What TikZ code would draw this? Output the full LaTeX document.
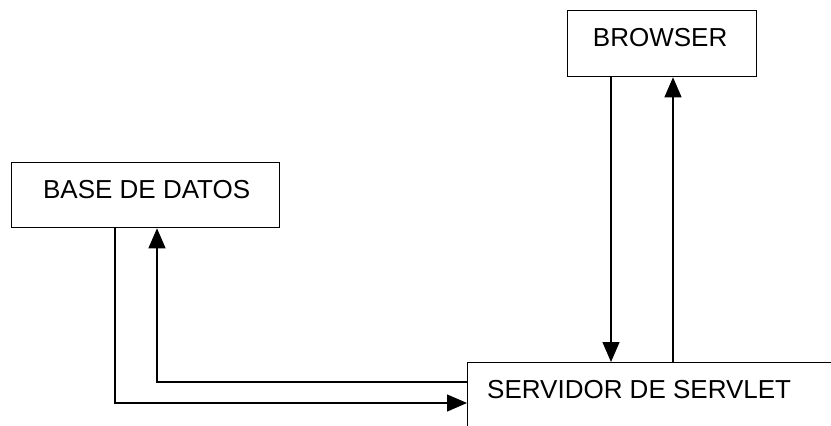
\documentclass[tikz,border=0pt]{standalone}
\usepackage{fontspec}
\setmainfont{Liberation Sans}
\usetikzlibrary{arrows.meta}
\begin{document}
\begin{tikzpicture}[x=1pt,y=-1pt,
  box/.style={draw,line width=1.3pt,rectangle,inner sep=0pt,anchor=north west},
  lbl/.style={font=\fontsize{26}{28}\selectfont,inner sep=0pt,anchor=base},
  arr/.style={line width=1.2pt,-{Triangle[length=20pt,width=17pt]}},
  ln/.style={line width=1.2pt}]
\useasboundingbox (0,0) rectangle (831,426);
\clip (0,0) rectangle (831,426);
\node[box,minimum width=189pt,minimum height=66pt] (browser) at (567,10) {};
\node[box,minimum width=268pt,minimum height=65pt] (bd) at (11,162) {};
\node[box,minimum width=420pt,minimum height=120pt] (serv) at (467,362) {};
\node[lbl] (tb) at ([xshift=-2pt,yshift=-36pt]browser.north) {BROWSER};
\node[lbl] (td) at ([xshift=1pt,yshift=-36pt]bd.north) {BASE DE DATOS};
\node[lbl,anchor=base west] (ts) at ([xshift=20pt,yshift=-36pt]serv.north west) {SERVIDOR DE SERVLET};
% browser <-> servidor
\draw[arr] ([xshift=44pt]browser.south west) -- ([xshift=144pt]serv.north west);
\draw[arr] ([xshift=206pt]serv.north west) -- ([xshift=106pt]browser.south west);
% base de datos <-> servidor
\draw[arr] ([xshift=104pt]bd.south west) |- ([yshift=-41pt]serv.north west);
\draw[arr] ([yshift=-20pt]serv.north west) -| ([xshift=146pt]bd.south west);
\end{tikzpicture}
\end{document}
